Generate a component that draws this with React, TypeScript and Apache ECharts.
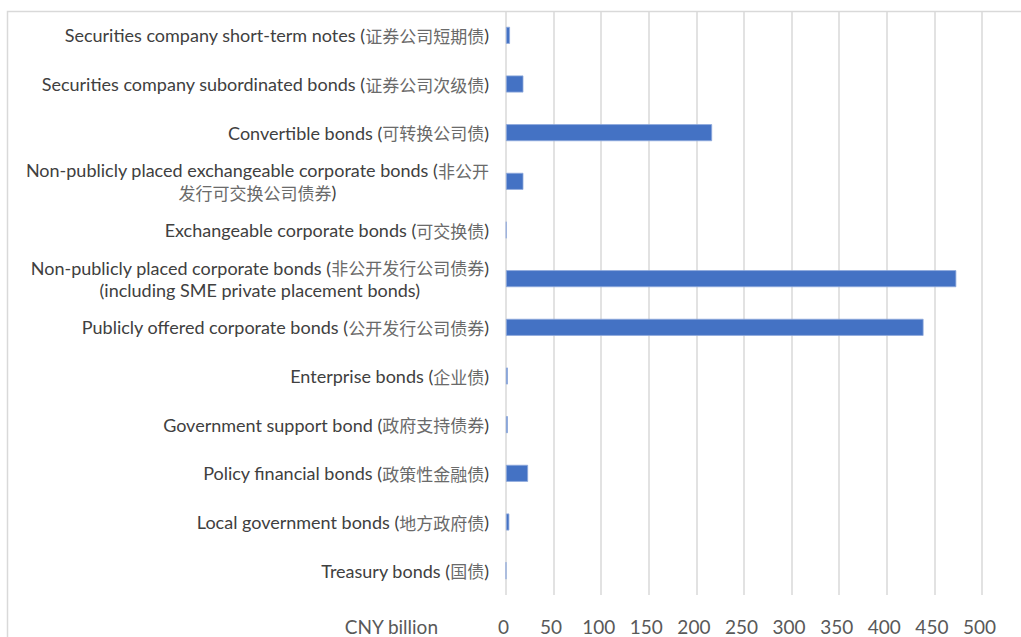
import React, { useEffect, useRef } from "react";
import * as echarts from "echarts";

const categories: string[] = [
  "Securities company short-term notes (证券公司短期债)",
  "Securities company subordinated bonds (证券公司次级债)",
  "Convertible bonds (可转换公司债)",
  "Non-publicly placed exchangeable corporate bonds (非公开\n发行可交换公司债券)",
  "Exchangeable corporate bonds (可交换债)",
  "Non-publicly placed corporate bonds (非公开发行公司债券)\n(including SME private placement bonds)",
  "Publicly offered corporate bonds (公开发行公司债券)",
  "Enterprise bonds (企业债)",
  "Government support bond (政府支持债券)",
  "Policy financial bonds (政策性金融债)",
  "Local government bonds (地方政府债)",
  "Treasury bonds (国债)",
];

const values: number[] = [4.2, 18.3, 216.5, 18.3, 0.5, 473, 438.6, 2, 2, 23.2, 3.5, 0];

const xTicks: number[] = [0, 50, 100, 150, 200, 250, 300, 350, 400, 450, 500];
const axisUnit = "CNY billion";

const cjkRe = /([\u3400-\u9fff\u3000-\u303f\uff00-\uffef]+)/;

function richLabel(label: string): string {
  return label
    .split("\n")
    .map((line) =>
      line
        .split(cjkRe)
        .filter((s) => s.length > 0)
        .map((s) => (cjkRe.test(s) ? `{c|${s}}` : `{a|${s}}`))
        .join("")
    )
    .join("\n");
}

export default function App() {
  const ref = useRef<HTMLDivElement>(null);
  useEffect(() => {
    if (!ref.current) return;
    const chart = echarts.init(ref.current, undefined, { renderer: "svg" });
    const option: echarts.EChartsOption = {
      animation: false,
      backgroundColor: "#ffffff",
      grid: { left: 506, right: 39, top: 11, bottom: 42, containLabel: false },
      graphic: [
        {
          type: "rect",
          shape: { x: 7.5, y: 11.5, width: 1100, height: 700 },
          style: { fill: "none", stroke: "#d9d9d9", lineWidth: 1.5 },
          silent: true,
          z: -10,
        },
        {
          type: "text",
          x: 438,
          y: 626,
          style: {
            text: axisUnit,
            fill: "#595959",
            font: "19px Lato, 'Open Sans', sans-serif",
            textAlign: "right",
            textVerticalAlign: "middle",
          } as any,
        },
      ],
      xAxis: {
        type: "value",
        min: xTicks[0],
        max: xTicks[xTicks.length - 1],
        interval: xTicks[1] - xTicks[0],
        axisLine: { show: false },
        axisTick: { show: false },
        splitLine: { show: true, lineStyle: { color: "#d9d9d9", width: 1.5 } },
        axisLabel: {
          margin: 22,
          color: "#595959",
          fontSize: 19,
          lineHeight: 19,
          fontFamily: "Lato, 'Open Sans', sans-serif",
          padding: [0, 5, 0, 0],
        },
      },
      yAxis: {
        type: "category",
        data: categories,
        inverse: true,
        axisLine: { show: false },
        axisTick: { show: false },
        axisLabel: {
          margin: 17,
          interval: 0,
          formatter: (v: string) => richLabel(v),
          rich: {
            a: {
              fontSize: 18,
              fontFamily: "Lato, 'Open Sans', sans-serif",
              color: "#404040",
              align: "center",
              lineHeight: 22,
            },
            c: {
              fontSize: 17,
              fontFamily: "'Noto Sans CJK SC', sans-serif",
              color: "#6a6a6a",
              align: "center",
              lineHeight: 22,
            },
          },
        },
      },
      series: [
        {
          type: "bar",
          data: values,
          barWidth: 17,
          itemStyle: { color: "#4472C4", borderColor: "#8faadc", borderWidth: 0.8 },
        },
      ],
    };
    chart.setOption(option);
    return () => chart.dispose();
  }, []);
  return (
    <div
      ref={ref}
      style={{ position: "fixed", left: 0, top: 0, width: 1021, height: 637, background: "#fff" }}
    />
  );
}
